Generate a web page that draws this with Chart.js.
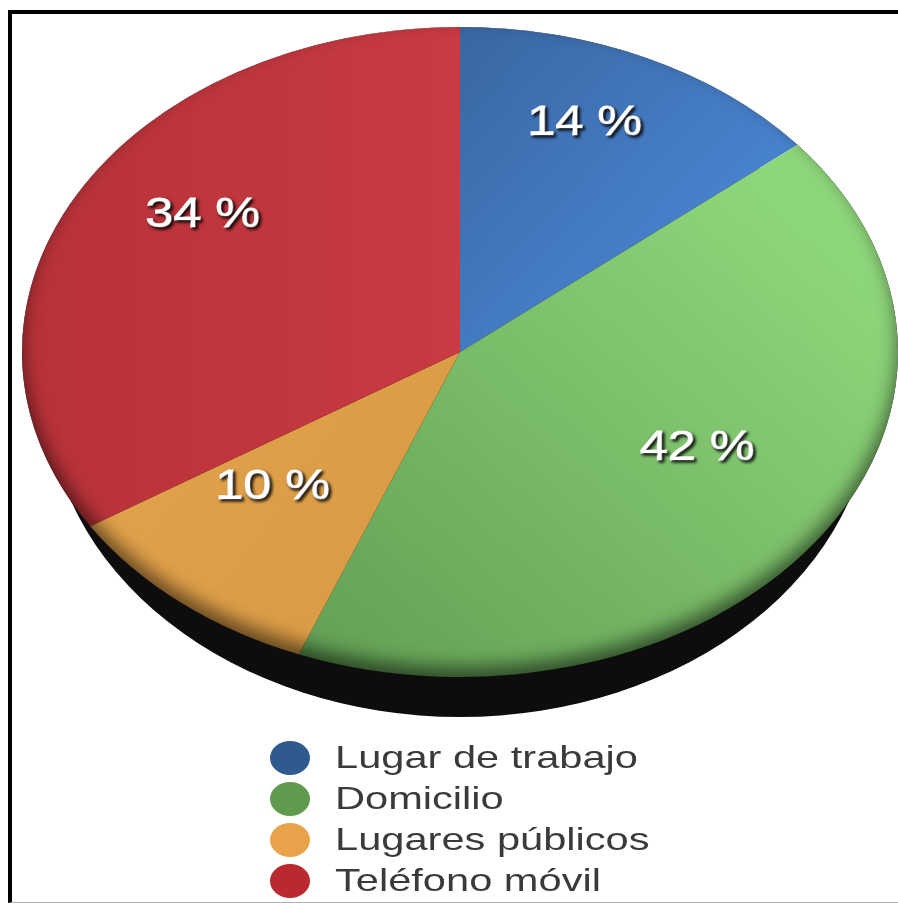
<!DOCTYPE html>
<html lang="es">
<head>
    <meta charset="UTF-8">
    <title>Pie chart</title>
    <script src="https://cdn.jsdelivr.net/npm/chart.js@4.4.0/dist/chart.umd.min.js"></script>
    <style>
        body {
            margin: 0;
            background: #ffffff;
            width: 898px;
            height: 905px;
            overflow: hidden;
            position: relative;
            font-family: "Liberation Sans", Arial, sans-serif;
        }
        .frame {
            position: absolute;
            left: 8px;
            top: 10px;
            width: 900px;
            height: 888px;
            border-top: 4px solid #000;
            border-left: 4px solid #000;
            border-bottom: 1px solid #b0b0b0;
        }
        #pie {
            position: absolute;
            left: 0;
            top: 0;
        }
        #legend {
            position: absolute;
            left: 270px;
            top: 736px;
        }
        .item {
            height: 41px;
            line-height: 41px;
            white-space: nowrap;
        }
        .dot {
            display: inline-block;
            width: 40px;
            height: 34px;
            border-radius: 50%;
            vertical-align: middle;
            margin-right: 25px;
        }
        .txt {
            display: inline-block;
            font-size: 32px;
            color: #3a3a3a;
            transform: scaleX(1.3);
            transform-origin: left center;
            vertical-align: middle;
        }
    </style>
</head>
<body>
    <div class="frame"></div>
    <canvas id="pie" width="898" height="905"></canvas>
    <div id="legend"></div>

    <script>
        const labels = ['Lugar de trabajo', 'Domicilio', 'Lugares públicos', 'Teléfono móvil'];
        const shares = [14, 42, 10, 34];
        const legendColors = ['#2f5a8e', '#5f9a4e', '#e8a34a', '#b9292f'];

        // the pie is drawn round, then squashed into the ellipse seen in the picture
        const SQUASH = 0.742;
        const FACE_CY = 352;
        const SIDE_DEPTH = 40;

        function sliceFill(context) {
            const ctx = context.chart.ctx;
            const i = context.dataIndex;
            let g;
            if (i === 0) {
                g = ctx.createLinearGradient(460, 14, 898, 320);
                g.addColorStop(0, '#3a66a2');
                g.addColorStop(1, '#4e90e2');
            } else if (i === 1) {
                g = ctx.createLinearGradient(300, 880, 898, 380);
                g.addColorStop(0, '#629f54');
                g.addColorStop(1, '#8ed67b');
            } else if (i === 2) {
                g = ctx.createLinearGradient(40, 600, 420, 800);
                g.addColorStop(0, '#e3a34c');
                g.addColorStop(1, '#d99a45');
            } else {
                g = ctx.createLinearGradient(22, 452, 460, 452);
                g.addColorStop(0, '#b73238');
                g.addColorStop(1, '#c93a42');
            }
            return g;
        }

        const squashPlugin = {
            id: 'squash',
            beforeDatasetsDraw(chart) {
                const ctx = chart.ctx;
                const arc = chart.getDatasetMeta(0).data[0];
                const cx = arc.x, cy = arc.y, r = arc.outerRadius;
                ctx.save();
                // dark side of the disc
                ctx.beginPath();
                ctx.ellipse(cx, FACE_CY + SIDE_DEPTH, r - 25, r * SQUASH, 0, 0, Math.PI * 2);
                ctx.fillStyle = '#0d0d0d';
                ctx.fill();
                ctx.translate(cx, FACE_CY);
                ctx.scale(1, SQUASH);
                ctx.translate(-cx, -cy);
            },
            afterDatasetsDraw(chart) {
                const ctx = chart.ctx;
                ctx.restore();
                const meta = chart.getDatasetMeta(0);
                const arc0 = meta.data[0];
                const cx = arc0.x, r = arc0.outerRadius, ry = r * SQUASH;

                // soft inner shade along the lower rim
                ctx.save();
                ctx.beginPath();
                ctx.ellipse(cx, FACE_CY, r, ry, 0, 0, Math.PI * 2);
                ctx.clip();
                ctx.beginPath();
                ctx.rect(-200, -200, 1400, 1400);
                ctx.ellipse(cx, FACE_CY, r, ry, 0, 0, Math.PI * 2);
                ctx.shadowColor = 'rgba(0,0,0,0.55)';
                ctx.shadowBlur = 18;
                ctx.shadowOffsetY = -10;
                ctx.fillStyle = '#000';
                ctx.fill('evenodd');
                ctx.restore();

                // percentage labels
                ctx.save();
                ctx.font = '42px "Liberation Sans", Arial, sans-serif';
                ctx.textAlign = 'center';
                ctx.textBaseline = 'middle';
                ctx.fillStyle = '#ffffff';
                ctx.strokeStyle = '#ffffff';
                ctx.lineWidth = 1.2;
                ctx.shadowColor = 'rgba(0,0,0,0.85)';
                ctx.shadowBlur = 3;
                ctx.shadowOffsetX = 2;
                ctx.shadowOffsetY = 2;
                meta.data.forEach((arc, i) => {
                    const mid = (arc.startAngle + arc.endAngle) / 2;
                    const x = cx + Math.cos(mid) * r * 0.67;
                    const y = FACE_CY + Math.sin(mid) * ry * 0.67 - 32;
                    ctx.save();
                    ctx.translate(x, y);
                    ctx.scale(1.2, 1);
                    ctx.strokeText(shares[i] + ' %', 0, 0);
                    ctx.fillText(shares[i] + ' %', 0, 0);
                    ctx.restore();
                });
                ctx.restore();
            }
        };

        new Chart(document.getElementById('pie'), {
            type: 'pie',
            data: {
                labels: labels,
                datasets: [{
                    data: shares,
                    backgroundColor: sliceFill,
                    borderWidth: 0
                }]
            },
            options: {
                responsive: false,
                animation: false,
                layout: { padding: { left: 22, right: 0, top: 14, bottom: 15 } },
                plugins: {
                    legend: { display: false },
                    tooltip: { enabled: false }
                }
            },
            plugins: [squashPlugin]
        });

        const legend = document.getElementById('legend');
        labels.forEach((name, i) => {
            const row = document.createElement('div');
            row.className = 'item';
            row.innerHTML = '<span class="dot" style="background:' + legendColors[i] + '"></span>' +
                '<span class="txt">' + name + '</span>';
            legend.appendChild(row);
        });
    </script>
</body>
</html>
